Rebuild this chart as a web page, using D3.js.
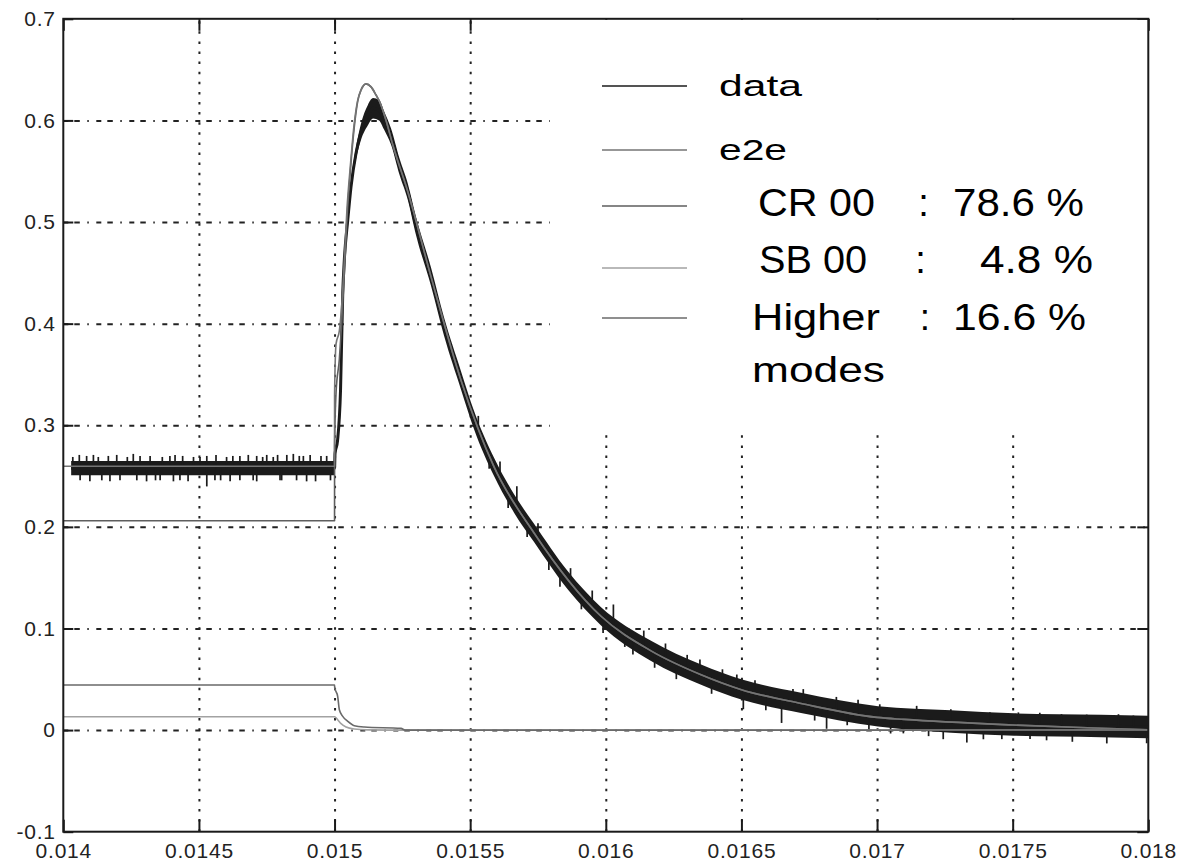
<!DOCTYPE html>
<html>
<head>
<meta charset="utf-8">
<script src="https://cdn.jsdelivr.net/npm/d3@7"></script>
<style>
  html, body { margin: 0; padding: 0; background: #fff; }
  svg { display: block; }
  text { font-family: "Liberation Sans", Arial, Helvetica, sans-serif; }
</style>
</head>
<body>
<svg id="chart" width="1186" height="863"></svg>
<script>
// ---- axis ticks ----
const xTicks = [0.014, 0.0145, 0.015, 0.0155, 0.016, 0.0165, 0.017, 0.0175, 0.018];
const xTickLabels = ["0.014", "0.0145", "0.015", "0.0155", "0.016", "0.0165", "0.017", "0.0175", "0.018"];
const yTicks = [-0.1, 0, 0.1, 0.2, 0.3, 0.4, 0.5, 0.6, 0.7];
const yTickLabels = ["-0.1", "0", "0.1", "0.2", "0.3", "0.4", "0.5", "0.6", "0.7"];

// ---- measured signal: centre of the noisy trace and half-width of its dense core ----
const dataTime = [0.014029, 0.015, 0.0150018, 0.0150111, 0.0150221, 0.0150302, 0.0150361, 0.0150487,
  0.0150608, 0.0150793, 0.0150977, 0.0151224, 0.0151419, 0.0151641, 0.0151825, 0.0152083, 0.0152389,
  0.0152699, 0.0153005, 0.0153558, 0.0154037, 0.0154664, 0.0155143, 0.015588, 0.0156618, 0.0157355,
  0.0158608, 0.0159825, 0.0161668, 0.0163512, 0.0165023, 0.0167198, 0.0170037, 0.0172728, 0.0175051,
  0.0178258, 0.018];
const dataMid = [0.2578, 0.2578, 0.272, 0.285, 0.335, 0.430, 0.463, 0.502,
  0.535, 0.568, 0.589, 0.605, 0.612, 0.610, 0.600, 0.584, 0.555,
  0.530, 0.496, 0.446, 0.397, 0.344, 0.305, 0.259, 0.223, 0.194,
  0.147, 0.112, 0.078, 0.0545, 0.0398, 0.0267, 0.0135, 0.0085, 0.0055,
  0.004, 0.003];
const dataSpread = [0.007, 0.007, 0.004, 0.004, 0.004, 0.004, 0.004, 0.004,
  0.005, 0.006, 0.008, 0.010, 0.010, 0.010, 0.009, 0.008, 0.008,
  0.008, 0.009, 0.009, 0.009, 0.009, 0.009, 0.009, 0.009, 0.009,
  0.009, 0.009, 0.010, 0.010, 0.010, 0.010, 0.010, 0.011, 0.011,
  0.011, 0.011];

// noise excursions beyond the dense core: time and offset from the trace centre
const spikeTime = [
  0.014035, 0.014059, 0.014086, 0.014111, 0.014129, 0.014166, 0.014197, 0.014236,
  0.014258, 0.014283, 0.014393, 0.014412, 0.014504, 0.014529, 0.014563, 0.014602, 0.014651, 0.014682,
  0.014713, 0.01475, 0.014774, 0.014824, 0.014848, 0.014885, 0.01491, 0.014971,
  0.014062, 0.014098, 0.014142, 0.014172, 0.014209, 0.014271, 0.014307, 0.014357, 0.014406, 0.01443,
  0.014529, 0.014559, 0.014615, 0.014651, 0.014713, 0.014799, 0.01486, 0.014897,
  0.01432, 0.01434, 0.014365, 0.01444, 0.01446, 0.01448, 0.01458, 0.014625, 0.0147, 0.014735,
  0.01479, 0.014805, 0.01487, 0.01493, 0.01495, 0.014985,
  0.01553, 0.01557, 0.01561, 0.01564, 0.015672, 0.01571, 0.01575, 0.01579, 0.015831, 0.01587,
  0.01591, 0.01595, 0.01599, 0.016028, 0.01607, 0.0161, 0.01614, 0.01618, 0.01622, 0.01626,
  0.0163, 0.016347, 0.01639, 0.01643, 0.016483, 0.016507, 0.01655, 0.01659, 0.016648, 0.01669,
  0.016728, 0.01677, 0.016814, 0.01685, 0.01689, 0.01693, 0.01697, 0.01701, 0.01705, 0.017097,
  0.017146, 0.01719, 0.017244, 0.017272, 0.017331, 0.017392, 0.017416, 0.01746, 0.017521, 0.017564,
  0.0176, 0.017625, 0.01768, 0.01772, 0.017773, 0.017847, 0.01789, 0.017945, 0.017994];
const spikeOffset = [
  0.011, 0.013, 0.012, 0.013, 0.011, 0.012, 0.013, 0.011,
  0.014, 0.012, 0.012, 0.013, 0.011, 0.012, 0.013, 0.011, 0.012, 0.013,
  0.012, 0.013, 0.011, 0.013, 0.014, 0.012, 0.013, 0.012,
  -0.012, -0.013, -0.012, -0.013, -0.012, -0.012, -0.013, -0.012, -0.013, -0.012,
  -0.018, -0.012, -0.013, -0.012, -0.013, -0.012, -0.012, -0.013,
  0.012, -0.012, 0.011, 0.012, -0.013, 0.011, -0.012, 0.012, -0.012, 0.011,
  0.013, -0.012, 0.012, -0.013, 0.012, -0.012,
  0.014, -0.013, 0.016, -0.015, 0.021, -0.014, 0.015, -0.016, -0.017, 0.015,
  -0.014, 0.016, -0.015, 0.020, -0.014, -0.016, 0.015, -0.015, 0.014, -0.016,
  0.013, 0.0145, -0.015, 0.013, 0.013, -0.019, 0.012, -0.015, -0.024, 0.012,
  0.014, -0.015, -0.021, 0.012, -0.014, 0.013, -0.015, 0.012, -0.016, -0.015,
  0.013, -0.016, -0.018, 0.012, -0.020, -0.016, 0.011, -0.015, 0.012, -0.014,
  0.012, -0.015, 0.011, -0.016, 0.011, -0.017, 0.012, 0.011, -0.016];

// ---- fitted model and its components ----
const e2eTime = [0.014, 0.015, 0.0150001, 0.0150055, 0.0150177, 0.0150265, 0.0150361, 0.0150461,
  0.0150582, 0.015073, 0.0150855, 0.0150977, 0.0151161, 0.0151346, 0.015153, 0.0151652, 0.0151899,
  0.0152146, 0.0152699, 0.0153558, 0.0154664, 0.015588, 0.0157355, 0.0159825, 0.0161668, 0.0163512,
  0.0165, 0.01672, 0.017, 0.0171, 0.0175, 0.0178, 0.018];
const e2eValue = [0.2597, 0.2597, 0.330, 0.380, 0.393, 0.418, 0.463, 0.514,
  0.555, 0.598, 0.620, 0.630, 0.636, 0.633, 0.625, 0.619, 0.600,
  0.576, 0.530, 0.446, 0.344, 0.259, 0.194, 0.112, 0.078, 0.0545,
  0.0398, 0.0262, 0.0125, 0.0105, 0.005, 0.002, 0.0004];

const crTime = [0.014, 0.015, 0.0150001, 0.0150055, 0.0150177, 0.0150265, 0.0150361, 0.0150461,
  0.0150582, 0.015073, 0.0150855, 0.0150977, 0.0151161, 0.0151346, 0.015153, 0.0151652, 0.0151899,
  0.0152146, 0.0152699, 0.0153558, 0.0154664, 0.015588, 0.0157355, 0.0159825, 0.0161668, 0.0163512,
  0.0165, 0.01672, 0.017, 0.0171, 0.0175, 0.0178, 0.018];
const crValue = [0.206, 0.206, 0.279, 0.332, 0.365, 0.401, 0.450, 0.504,
  0.550, 0.594, 0.619, 0.630, 0.636, 0.633, 0.625, 0.619, 0.600,
  0.576, 0.530, 0.446, 0.344, 0.259, 0.194, 0.112, 0.078, 0.0545,
  0.0398, 0.0262, 0.0125, 0.0105, 0.005, 0.002, 0.0004];

const sbTime = [0.014, 0.015, 0.0150123, 0.015024, 0.0150424, 0.015073, 0.01512, 0.0152, 0.018];
const sbValue = [0.0131, 0.0131, 0.010, 0.0063, 0.003, 0.001, 0.0002, 0.0, 0.0];

const hmTime = [0.014, 0.015, 0.0150005, 0.0150117, 0.0150177, 0.0150302, 0.0150486, 0.015073,
  0.0151098, 0.0152452, 0.01526, 0.018];
const hmValue = [0.0443, 0.0443, 0.042, 0.033, 0.020, 0.0135, 0.0086, 0.0043,
  0.003, 0.0017, 0.0, 0.0];

// ---- legend ----
const legendNames = ["data", "e2e", "CR 00", "SB 00", "Higher"];
const legendShares = ["", "", "78.6 %", "4.8 %", "16.6 %"];
const legendExtra = "modes";

const colors = {
  data: "#1b1b1b", e2e: "#747474", cr: "#5e5e5e", sb: "#a2a2a2", hm: "#6a6a6a",
  grid: "#222", axis: "#1a1a1a", text: "#222"
};

// ---- layout ----
const svg = d3.select("#chart");
const x = d3.scaleLinear().domain([0.014, 0.018]).range([63.3, 1148.3]);
const y = d3.scaleLinear().domain([-0.1, 0.7]).range([831.7, 18.8]);
const plotLeft = x.range()[0], plotRight = x.range()[1];
const plotTop = y.range()[1], plotBottom = y.range()[0];
const plotW = plotRight - plotLeft, plotH = plotBottom - plotTop;

// ---- grid ----
const gridV = svg.append("g").attr("transform", `translate(0,${plotBottom})`)
  .call(d3.axisBottom(x).tickValues(xTicks.slice(1, -1)).tickSize(-plotH).tickFormat(""));
gridV.select(".domain").remove();
gridV.selectAll("line").attr("stroke", colors.grid).attr("stroke-width", 2)
  .attr("stroke-dasharray", "2.5,7.6");

const gridH = svg.append("g").attr("transform", `translate(${plotLeft},0)`)
  .call(d3.axisLeft(y).tickValues(yTicks.slice(1, -1)).tickSize(-plotW).tickFormat(""));
gridH.select(".domain").remove();
gridH.selectAll("line").attr("stroke", colors.grid).attr("stroke-width", 2)
  .attr("stroke-dasharray", "5,6,5.5,7.5,1.5,7.5");

// ---- inward ticks and labels ----
function styleAxis(g) {
  g.select(".domain").remove();
  g.selectAll("line").attr("stroke", colors.axis).attr("stroke-width", 2);
  g.selectAll("text").attr("fill", colors.text).attr("font-size", 21)
    .attr("letter-spacing", "0.8px").attr("font-family", "'Liberation Sans', Arial, sans-serif");
}
svg.append("g").attr("transform", `translate(0,${plotBottom})`)
  .call(d3.axisBottom(x).tickValues(xTicks).tickSizeInner(-12).tickSizeOuter(0).tickPadding(11.5)
    .tickFormat((d, i) => xTickLabels[i]))
  .call(styleAxis);
svg.append("g").attr("transform", `translate(${plotLeft},0)`)
  .call(d3.axisLeft(y).tickValues(yTicks).tickSizeInner(-10).tickSizeOuter(0).tickPadding(7.5)
    .tickFormat((d, i) => yTickLabels[i]))
  .call(styleAxis);
svg.append("g").attr("transform", `translate(0,${plotTop})`)
  .call(d3.axisTop(x).tickValues(xTicks).tickSizeInner(-12).tickSizeOuter(0).tickFormat(""))
  .call(styleAxis);
svg.append("g").attr("transform", `translate(${plotRight},0)`)
  .call(d3.axisRight(y).tickValues(yTicks).tickSizeInner(-11).tickSizeOuter(0).tickFormat(""))
  .call(styleAxis);

// ---- measured trace ----
const trace = dataTime.map((t, i) => ({ t, v: dataMid[i], s: dataSpread[i] }));
const plot = svg.append("g");

plot.append("path").datum(trace)
  .attr("fill", colors.data)
  .attr("d", d3.area().x(d => x(d.t)).y0(d => y(d.v - d.s)).y1(d => y(d.v + d.s))
    .curve(d3.curveMonotoneX));
plot.append("path").datum(trace)
  .attr("fill", "none").attr("stroke", colors.data).attr("stroke-width", 3)
  .attr("d", d3.line().x(d => x(d.t)).y(d => y(d.v)).curve(d3.curveMonotoneX));

const midAt = d3.scaleLinear().domain(dataTime).range(dataMid);
plot.append("g").selectAll("line")
  .data(spikeTime.map((t, i) => ({ t, off: spikeOffset[i] })))
  .join("line")
  .attr("x1", d => x(d.t)).attr("x2", d => x(d.t))
  .attr("y1", d => y(midAt(d.t))).attr("y2", d => y(midAt(d.t) + d.off))
  .attr("stroke", colors.data).attr("stroke-width", 1.7);

// ---- model curves ----
const fitLine = d3.line().x(d => x(d[0])).y(d => y(d[1])).curve(d3.curveMonotoneX);
function drawFit(times, values, color, width) {
  plot.append("path").datum(times.map((t, i) => [t, values[i]]))
    .attr("fill", "none").attr("stroke", color).attr("stroke-width", width)
    .attr("stroke-linejoin", "round").attr("d", fitLine);
}
drawFit(sbTime, sbValue, colors.sb, 1.6);
drawFit(hmTime, hmValue, colors.hm, 1.6);
drawFit(crTime, crValue, colors.cr, 1.6);
drawFit(e2eTime, e2eValue, colors.e2e, 1.6);

// ---- legend ----
const legend = svg.append("g");
legend.append("rect").attr("x", 550).attr("y", plotTop + 1)
  .attr("width", plotRight - 550).attr("height", 433 - plotTop - 1)
  .attr("fill", "#fff");

const legendLineY = [86, 150, 206, 268, 318];
const legendLineColor = [colors.data, colors.e2e, colors.cr, colors.sb, colors.hm];
legend.selectAll("line.key").data(legendLineY).join("line").attr("class", "key")
  .attr("x1", 602).attr("x2", 687).attr("y1", d => d).attr("y2", d => d)
  .attr("stroke", (d, i) => legendLineColor[i]).attr("stroke-width", 1.6);

// name labels: [x, baseline, size, width]
const nameBox = [[719, 96, 29, 83], [719, 160, 30, 68], [758, 216, 38, 117], [759, 273, 38, 108], [752, 330, 37, 128]];
legend.selectAll("text.name").data(legendNames).join("text").attr("class", "name")
  .attr("x", (d, i) => nameBox[i][0]).attr("y", (d, i) => nameBox[i][1])
  .attr("font-size", (d, i) => nameBox[i][2])
  .attr("textLength", (d, i) => nameBox[i][3]).attr("lengthAdjust", "spacingAndGlyphs")
  .attr("fill", "#000").text(d => d);

const shareBox = [null, null, [953, 216, 38, 131], [980, 273, 38, 113], [953, 330, 37, 133]];
const colonX = [null, null, 923.5, 920.5, 925];
legendShares.forEach((s, i) => {
  if (!s) return;
  legend.append("text").attr("x", colonX[i]).attr("y", shareBox[i][1])
    .attr("font-size", shareBox[i][2]).attr("text-anchor", "middle").attr("fill", "#000").text(":");
  legend.append("text").attr("x", shareBox[i][0]).attr("y", shareBox[i][1])
    .attr("font-size", shareBox[i][2])
    .attr("textLength", shareBox[i][3]).attr("lengthAdjust", "spacingAndGlyphs")
    .attr("fill", "#000").text(s);
});
legend.append("text").attr("x", 752).attr("y", 382).attr("font-size", 35)
  .attr("textLength", 133).attr("lengthAdjust", "spacingAndGlyphs").attr("fill", "#000").text(legendExtra);

// ---- axes box ----
svg.append("rect").attr("x", plotLeft).attr("y", plotTop).attr("width", plotW).attr("height", plotH)
  .attr("fill", "none").attr("stroke", colors.axis).attr("stroke-width", 2);
</script>
</body>
</html>
